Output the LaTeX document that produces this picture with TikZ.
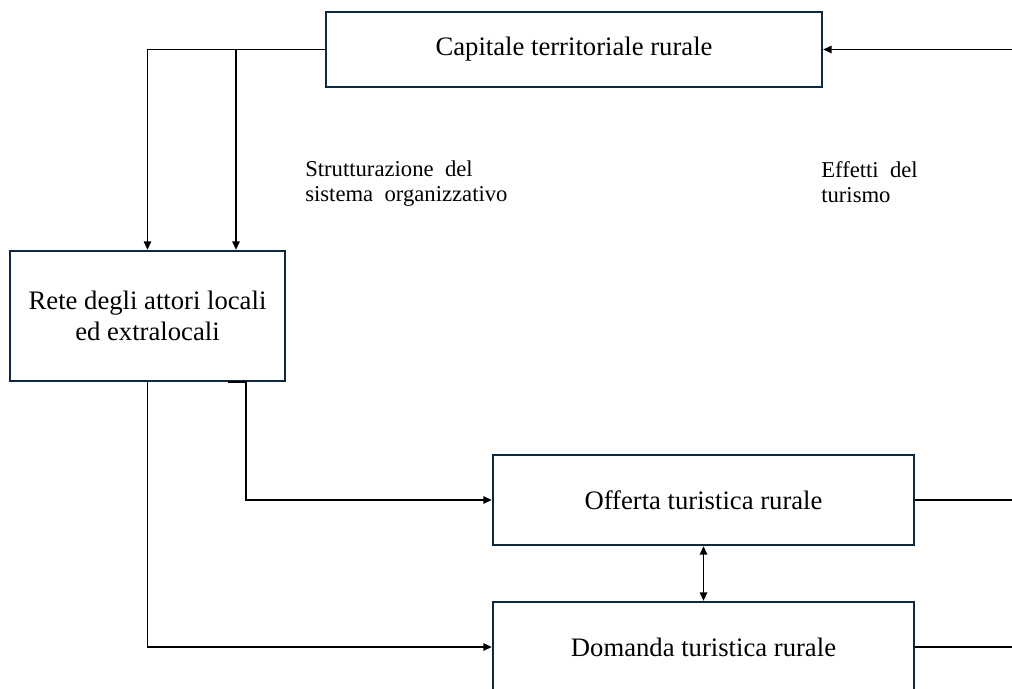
\documentclass[tikz,border=0pt]{standalone}
\usepackage{fontspec}
\setmainfont{Liberation Serif}
\usetikzlibrary{arrows.meta}
\definecolor{boxline}{RGB}{14,40,65}

\begin{document}
\begin{tikzpicture}[x=0.75pt,y=-0.75pt,>={Triangle[length=6.5pt,width=5.5pt]},
  box/.style={draw=boxline,line width=1.6pt,inner sep=0pt,align=center,font=\fontsize{20}{23}\selectfont},
  lbl/.style={inner sep=0pt,align=left,anchor=north west,font=\fontsize{17}{18.75}\selectfont},
  conn/.style={line width=1.4pt}]
\useasboundingbox (0,0) rectangle (1012,688);
\node[box,minimum width=372pt,minimum height=56.25pt] (Cap) at (574,49.5) {Capitale territoriale rurale};
\node[box,minimum width=206.25pt,minimum height=97.5pt] (Rete) at (147.5,316) {Rete degli attori locali\\ed extralocali};
\node[box,minimum width=315.75pt,minimum height=67.5pt] (Off) at (703.5,500) {Offerta turistica rurale};
\node[box,minimum width=315.75pt,minimum height=67.5pt] (Dom) at (703.5,647) {Domanda turistica rurale};
\node[lbl] (Strutt) at (305,161) {Strutturazione\ \ del\\sistema\ \ organizzativo};
\node[lbl] (Eff) at (821,161) {Effetti\ \ del\\turismo};
\coordinate (branch) at (236,0);
\coordinate (tap) at (228,0);
\coordinate (edge) at (1012,0);
\draw[conn,->] (Cap.west) -| (Rete.north);
\draw[conn,->] (Cap.west -| branch) -- (Rete.north -| branch);
\draw[conn,->] (Rete.south) |- (Dom.west);
\draw[conn,->] (Rete.south -| tap) -- ++(18,0) |- (Off.west);
\draw[conn,<->] (Off.south) -- (Dom.north);
\draw[conn,->] (Cap.east -| edge) -- (Cap.east);
\draw[conn] (Off.east) -- (Off.east -| edge);
\draw[conn] (Dom.east) -- (Dom.east -| edge);
\end{tikzpicture}
\end{document}
